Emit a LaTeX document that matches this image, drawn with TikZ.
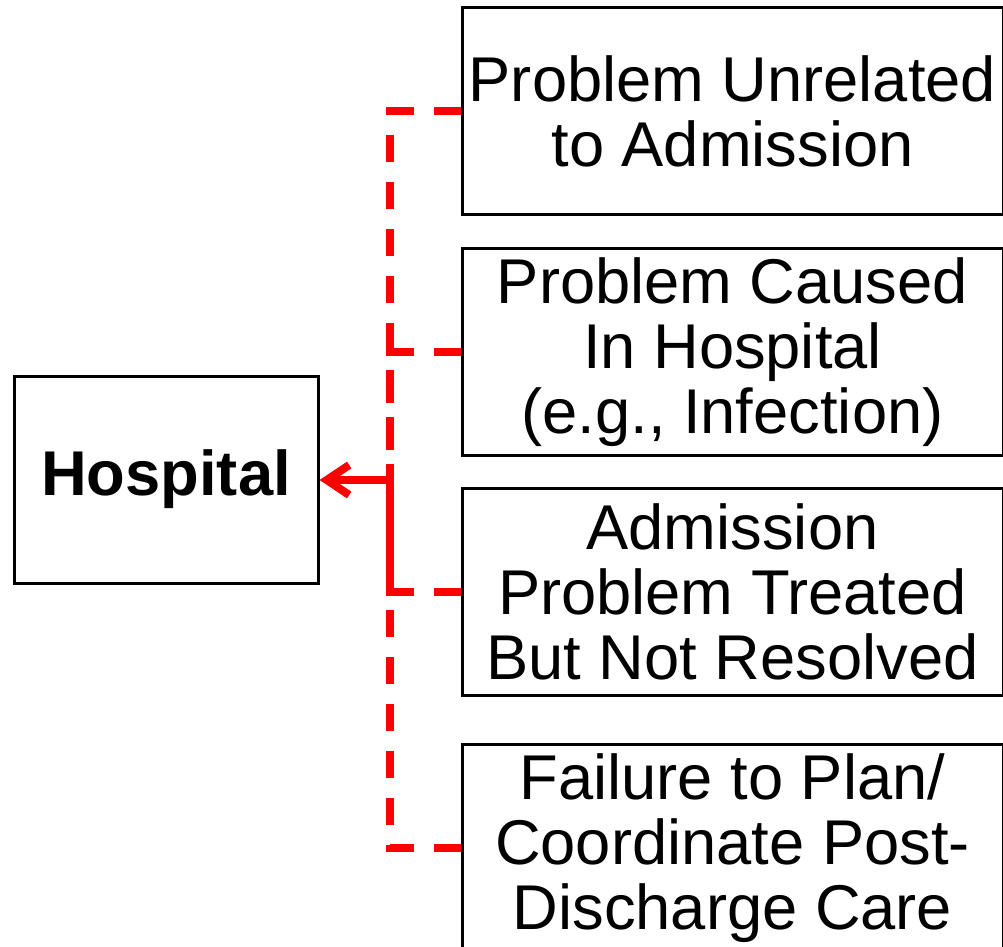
\documentclass[tikz,border=0pt]{standalone}
\usepackage{fontspec}
\setmainfont{Liberation Sans}
\usetikzlibrary{arrows.meta}

\begin{document}
\begin{tikzpicture}[
    box/.style={draw, line width=0.06cm, inner sep=0pt, minimum height=4.14cm, align=center, font=\fontsize{36}{37}\selectfont},
    cause/.style={box, minimum width=10.82cm},
    link/.style={red, line width=0.16cm, dash pattern=on 0.54cm off 0.4cm},
  ]
    \useasboundingbox (0,0) rectangle (20.06,-18.94);
    \node[box, minimum width=6.08cm, font=\fontsize{36}{37}\selectfont\bfseries] (hosp) at (3.32,-9.59) {Hospital};
    \node[cause] (unrel) at (14.65,-2.23) {Problem Unrelated\\to Admission};
    \node[cause] (caused) at (14.65,-7.04) {Problem Caused\\In Hospital\\(e.g., Infection)};
    \node[cause] (treated) at (14.65,-11.83) {Admission\\Problem Treated\\But Not Resolved};
    \node[cause] (plan) at (14.65,-16.96) {Failure to Plan/\\Coordinate Post-\\Discharge Care};
    \coordinate (J) at (7.8,-9.6);
    \draw[link] (unrel.west) -| (J);
    \draw[link] (caused.west) -| (J);
    \draw[link] (treated.west) -| (J);
    \draw[link] (plan.west) -| (J);
    \draw[red, line width=0.16cm, line cap=round, -{Straight Barb[length=0.45cm, width=0.6cm]}] (J) -- (hosp.east |- J);
\end{tikzpicture}
\end{document}
